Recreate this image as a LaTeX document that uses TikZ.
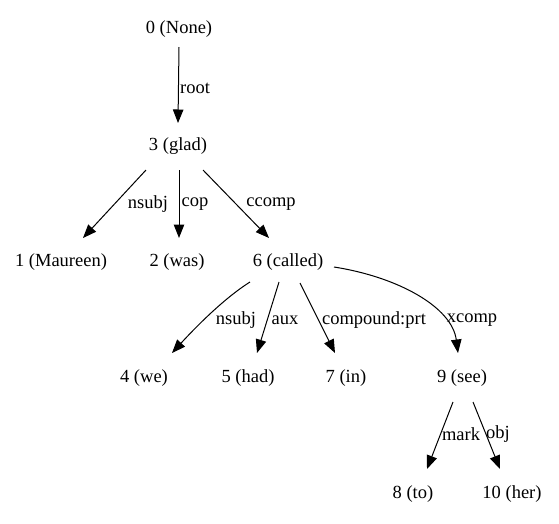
\documentclass[tikz,border=0pt]{standalone}
\usepackage{fontspec}
\setmainfont{Liberation Serif}
\usetikzlibrary{arrows.meta,calc}
\begin{document}
\begin{tikzpicture}[x=1pt,y=-1pt,
  tok/.style={inner sep=0pt,font=\fontsize{18.5}{20}\selectfont},
  lab/.style={inner sep=0pt,font=\fontsize{18.5}{20}\selectfont},
  dep/.style={line width=1pt,-{Triangle[length=13.5pt,width=10.5pt]}}]
\useasboundingbox[fill=white] (0,0) rectangle (559,523);
\node[tok] (n0) at (179,29) {0 (None)};
\node[tok] (n3) at (178,146) {3 (glad)};
\node[tok] (n1) at (61,262) {1 (Maureen)};
\node[tok] (n2) at (177,262) {2 (was)};
\node[tok] (n6) at (288,262) {6 (called)};
\node[tok] (n4) at (144,378) {4 (we)};
\node[tok] (n5) at (248,378) {5 (had)};
\node[tok] (n7) at (346,378) {7 (in)};
\node[tok] (n9) at (462,378) {9 (see)};
\node[tok] (n8) at (413,494) {8 (to)};
\node[tok] (n10) at (512,494) {10 (her)};
% edges
\draw[dep] ($(n0)+(0,18)$) -- ($(n3)+(0,-23)$);
\node[lab] (l1) at (195,88) {root};
\draw[dep] ($(n3)+(-32,24)$) -- ($(n1)+(22,-24)$);
\node[lab] (l2) at (148,204) {nsubj};
\draw[dep] ($(n3)+(1,24)$) -- ($(n2)+(2,-24)$);
\node[lab] (l3) at (195,204) {cop};
\draw[dep] ($(n3)+(25,24)$) -- ($(n6)+(-19,-24)$);
\node[lab] (l4) at (271,204) {ccomp};
\draw[dep] ($(n6)+(-38,20)$) .. controls ($(n6)+(-65,37)$) and ($(n4)+(50,-49)$) .. ($(n4)+(28,-25)$);
\node[lab] (l5) at (236,320) {nsubj};
\draw[dep] ($(n6)+(-9,20)$) -- ($(n5)+(9,-25)$);
\node[lab] (l6) at (285,320) {aux};
\draw[dep] ($(n6)+(12,21)$) -- ($(n7)+(-11,-25)$);
\node[lab] (l7) at (374,320) {compound:prt};
\draw[dep] ($(n6)+(46,5)$) .. controls ($(n6)+(110,15)$) and ($(n9)+(-10,-71)$) .. ($(n9)+(-4,-25)$);
\node[lab] (l8) at (472,320) {xcomp};
\draw[dep] ($(n9)+(-9,24)$) -- ($(n8)+(14,-25)$);
\node[lab] (l9) at (461,434) {mark};
\draw[dep] ($(n9)+(11,24)$) -- ($(n10)+(-12,-25)$);
\node[lab] (l10) at (498,434) {obj};
\end{tikzpicture}
\end{document}
